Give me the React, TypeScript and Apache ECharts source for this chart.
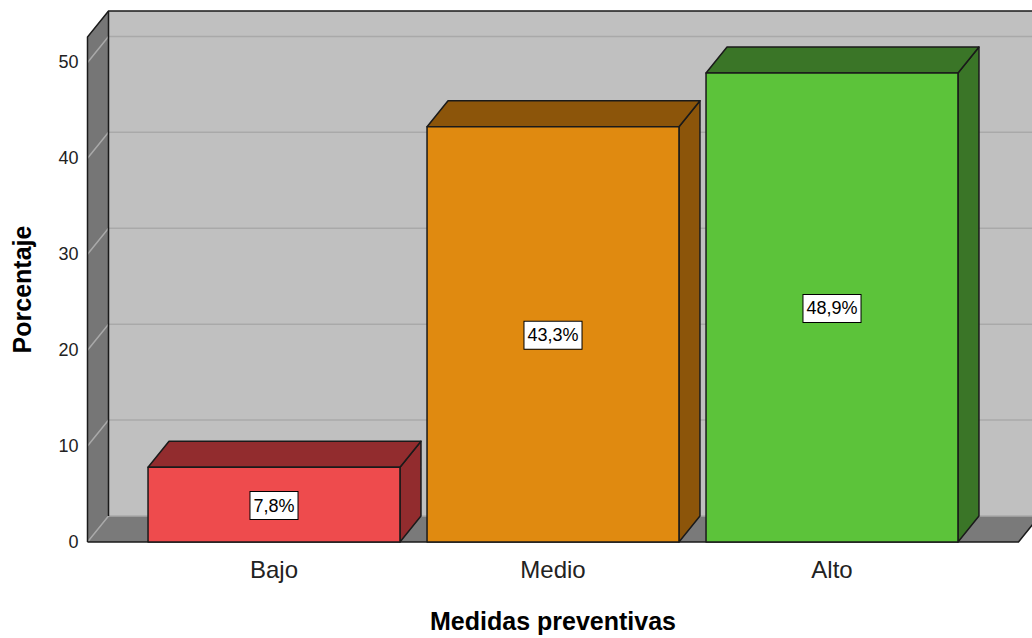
import React, { useEffect, useRef } from "react";
import * as echarts from "echarts";

const CATEGORIES = ["Bajo", "Medio", "Alto"];
const VALUES = [7.8, 43.3, 48.9];
const Y_TICKS = [0, 10, 20, 30, 40, 50];
const FRONT_COLORS = ["#EE4B4D", "#E08A10", "#5CC33A"];
const SIDE_COLORS = ["#922C2E", "#8C550A", "#3A7527"];
const X_TITLE = "Medidas preventivas";
const Y_TITLE = "Porcentaje";

const DX = 21;
const DY = -26;
const EXT = 47;
const BAR_RATIO = 0.903;
const EDGE = "#1a1a1a";
const FONT = "Liberation Sans, Arial, sans-serif";

const fmt = (v: number) => v.toFixed(1).replace(".", ",") + "%";

export default function App() {
  const ref = useRef<HTMLDivElement>(null);
  useEffect(() => {
    if (!ref.current) return;
    const chart = echarts.init(ref.current, undefined, { renderer: "svg" });

    const wallsRender = (params: any, api: any) => {
      const cs = params.coordSys;
      const x0 = cs.x - EXT;
      const x1 = cs.x + cs.width + EXT;
      const yT = cs.y;
      const yB = api.coord([0, 0])[1];
      const children: any[] = [];
      children.push({
        type: "rect",
        shape: { x: x0 + DX, y: yT + DY, width: x1 - x0, height: yB - yT },
        style: { fill: "#C0C0C0" },
      });
      children.push({
        type: "polygon",
        shape: { points: [[x0, yT], [x0 + DX, yT + DY], [x0 + DX, yB + DY], [x0, yB]] },
        style: { fill: "#767676" },
      });
      children.push({
        type: "polygon",
        shape: { points: [[x0, yB], [x1, yB], [x1 + DX, yB + DY], [x0 + DX, yB + DY]] },
        style: { fill: "#7A7A7A" },
      });
      Y_TICKS.forEach((t) => {
        const y = api.coord([0, t])[1];
        children.push({
          type: "polyline",
          shape: { points: [[x0, y], [x0 + DX, y + DY], [x1 + DX, y + DY]] },
          style: { stroke: "#A9A9A9", lineWidth: 1.5, fill: null },
        });
      });
      children.push({
        type: "polyline",
        shape: { points: [[x0, yB], [x0, yT], [x0 + DX, yT + DY], [x1 + DX, yT + DY]] },
        style: { stroke: EDGE, lineWidth: 1.5, fill: null },
      });
      children.push({
        type: "line",
        shape: { x1: x0 + DX, y1: yT + DY, x2: x0 + DX, y2: yB + DY },
        style: { stroke: EDGE, lineWidth: 1.5 },
      });
      children.push({
        type: "polyline",
        shape: { points: [[x0, yB], [x1, yB], [x1 + DX, yB + DY]] },
        style: { stroke: EDGE, lineWidth: 1.5, fill: null },
      });
      return { type: "group", children };
    };

    const barsRender = (params: any, api: any) => {
      const i = api.value(0);
      const v = api.value(1);
      const base = api.coord([i, 0]);
      const top = api.coord([i, v]);
      const half = (api.size([1, 0])[0] * BAR_RATIO) / 2;
      const xl = base[0] - half;
      const xr = base[0] + half;
      const yb = base[1];
      const yt = top[1];
      const dark = SIDE_COLORS[i];
      const lineStyle = { stroke: EDGE, lineWidth: 1.5, lineJoin: "round" };
      return {
        type: "group",
        children: [
          {
            type: "polygon",
            shape: { points: [[xr, yt], [xr + DX, yt + DY], [xr + DX, yb + DY], [xr, yb]] },
            style: { fill: dark, ...lineStyle },
          },
          {
            type: "polygon",
            shape: { points: [[xl, yt], [xl + DX, yt + DY], [xr + DX, yt + DY], [xr, yt]] },
            style: { fill: dark, ...lineStyle },
          },
          {
            type: "rect",
            shape: { x: xl, y: yt, width: xr - xl, height: yb - yt },
            style: { fill: FRONT_COLORS[i], ...lineStyle },
          },
          {
            type: "text",
            x: base[0],
            y: (yt + yb) / 2 + 1,
            style: {
              text: fmt(v),
              fontSize: 18,
              fontFamily: FONT,
              fill: "#000",
              align: "center",
              verticalAlign: "middle",
              backgroundColor: "#fff",
              borderColor: "#000",
              borderWidth: 1,
              padding: [5, 3, 4, 3],
            },
          },
        ],
      };
    };

    chart.setOption({
      animation: false,
      backgroundColor: "#ffffff",
      grid: { left: 134.5, right: 60.5, top: 37, bottom: 91, containLabel: false },
      xAxis: {
        type: "category",
        data: CATEGORIES,
        axisLine: { show: false },
        axisTick: { show: false },
        axisLabel: { fontSize: 24, color: "#222", margin: 15, fontFamily: FONT },
        name: X_TITLE,
        nameLocation: "middle",
        nameGap: 66,
        nameTextStyle: { fontSize: 25, fontWeight: "bold", color: "#000", fontFamily: FONT },
      },
      yAxis: {
        type: "value",
        min: 0,
        max: 52.65,
        interval: 10,
        axisLine: { show: false },
        axisTick: { show: false },
        splitLine: { show: false },
        axisLabel: {
          fontSize: 18,
          color: "#222",
          margin: 56,
          fontFamily: FONT,
          padding: [5, 0, 0, 0],
          formatter: (v: number) => (Y_TICKS.includes(v) ? String(v) : ""),
        },
        name: Y_TITLE,
        nameLocation: "middle",
        nameGap: 100,
        nameTextStyle: { fontSize: 25, fontWeight: "bold", color: "#000", fontFamily: FONT },
      },
      series: [
        {
          type: "custom",
          z: 1,
          silent: true,
          data: [[0, 0]],
          renderItem: wallsRender,
        },
        {
          type: "custom",
          z: 2,
          data: VALUES.map((v, i) => [i, v]),
          renderItem: barsRender,
        },
      ],
    });
    return () => chart.dispose();
  }, []);
  return (
    <div
      ref={ref}
      style={{ position: "absolute", left: 0, top: 0, width: 1032, height: 638, background: "#fff" }}
    />
  );
}
